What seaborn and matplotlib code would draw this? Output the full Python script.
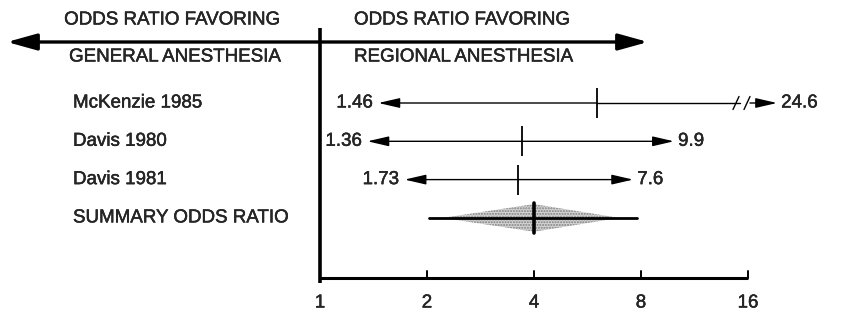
"""
Forest plot: odds ratios, regional vs general anesthesia
"""

import numpy as np
import matplotlib
matplotlib.use("Agg")
import matplotlib.pyplot as plt
import matplotlib.patheffects as pe
import seaborn as sns

# данные
studies = ["McKenzie 1985", "Davis 1980", "Davis 1981"]
estimates = [6.0, 3.7, 3.6]
ci_low = [1.46, 1.36, 1.73]
ci_high = [24.6, 9.9, 7.6]
summary_label = "SUMMARY ODDS RATIO"
summary_est = 4.0
summary_low = 2.03
summary_high = 7.8
ticks = [1, 2, 4, 8, 16]

sns.set_theme(style="white")
plt.rcParams["font.family"] = ["Liberation Sans", "DejaVu Sans"]

fig = plt.figure(figsize=(8.58, 3.12), dpi=100)
ax = fig.add_axes([0, 0, 1, 1])
ax.set_xscale("log", base=2)
# 1 -> 320 px, 107 px per doubling
ax.set_xlim(2 ** (-320 / 107), 2 ** ((858 - 320) / 107))
# row i -> 103 + 38.3*i px
ax.set_ylim((312 - 103) / 38.3, -103 / 38.3)
ax.axis("off")


def py(p):
    # пиксель по вертикали -> координата строки
    return (p - 103) / 38.3


def px(p):
    return 2 ** ((p - 320) / 107)


fs = 13.5
# чуть толще штрих, как на скане
txt = dict(fontsize=fs, va="center",
           path_effects=[pe.withStroke(linewidth=0.3, foreground="black")])
rows = np.arange(len(studies))
shown_high = [min(h, px(777)) for h in ci_high]

# заголовок со стрелкой
ax.annotate("", xy=(px(7), py(42)), xytext=(px(648), py(42)),
            arrowprops=dict(arrowstyle="<|-|>,head_length=1.8,head_width=0.5",
                            lw=2.4, color="black", shrinkA=0, shrinkB=0,
                            mutation_scale=10))
ax.text(px(172), py(20), "ODDS RATIO FAVORING", ha="center", **txt)
ax.text(px(175), py(57), "GENERAL ANESTHESIA", ha="center", **txt)
ax.text(px(354), py(20), "ODDS RATIO FAVORING", ha="left", **txt)
ax.text(px(354), py(57), "REGIONAL ANESTHESIA", ha="left", **txt)

# оси
ax.plot([1, 1], [py(28), py(283)], color="black", lw=2.6, solid_capstyle="butt")
ax.plot([1, 16], [py(278), py(278)], color="black", lw=2.2, solid_capstyle="butt")
for t in ticks:
    ax.plot([t, t], [py(278), py(271)], color="black", lw=1.4)
    ax.text(t, py(303), str(t), ha="center", **txt)

# исследования
for i, name in enumerate(studies):
    ax.text(px(73), i, name, ha="left", **txt)
    est = estimates[i]
    arrow = dict(arrowstyle="-|>,head_length=1.3,head_width=0.3", lw=1.0,
                 color="black", shrinkA=0, shrinkB=0, mutation_scale=10)
    ax.annotate("", xy=(ci_low[i], i), xytext=(est, i), arrowprops=arrow)
    hi = shown_high[i]
    if ci_high[i] > hi:
        # разрыв оси
        brk = px(740)
        ax.plot([est, brk], [i, i], color="black", lw=1.0)
        ax.annotate("", xy=(hi, i), xytext=(px(750), i), arrowprops=arrow)
        for b in (px(736), px(747)):
            ax.plot([b * 2 ** (-3 / 107), b * 2 ** (3 / 107)],
                    [i + 0.17, i - 0.17], color="black", lw=1.0)
    else:
        ax.annotate("", xy=(hi, i), xytext=(est, i), arrowprops=arrow)
    ax.annotate(f"{ci_low[i]:g}", xy=(ci_low[i], i), xytext=(-4, 0),
                textcoords="offset points", ha="right", **txt)
    ax.annotate(f"{ci_high[i]:g}", xy=(hi, i), xytext=(3, 0),
                textcoords="offset points", ha="left", **txt)

sns.scatterplot(x=estimates, y=rows, marker="|", s=480, color="black",
                linewidth=1.3, ax=ax, legend=False)

# суммарная оценка
ys = len(studies)
ax.text(px(73), ys, summary_label, ha="left", **txt)
lo_d, hi_d = summary_low * 1.09, summary_high * 0.89
ax.fill([lo_d, summary_est, hi_d, summary_est],
        [ys, ys - 0.36, ys, ys + 0.36],
        facecolor="#d4d4d4", edgecolor="#808080", hatch="......", lw=0)
ax.plot([summary_low, summary_high], [ys, ys], color="black", lw=2.0)
ax.plot([summary_est, summary_est], [ys - 0.4, ys + 0.4], color="black", lw=2.6)

fig.savefig("out.png", dpi=100)
